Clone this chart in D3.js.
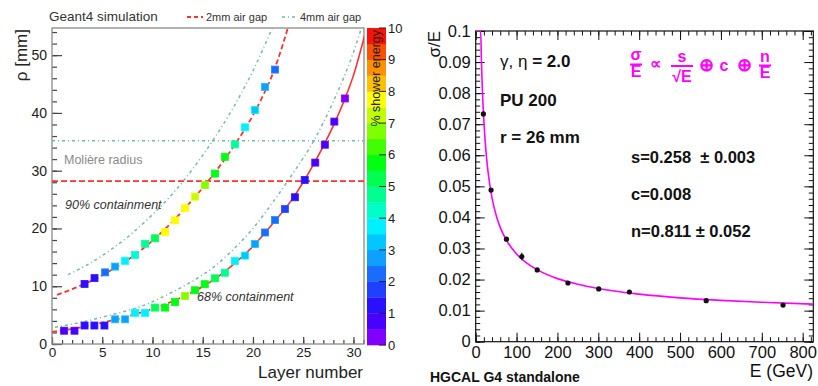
<!DOCTYPE html>
<html><head><meta charset="utf-8">
<script src="https://cdn.jsdelivr.net/npm/d3@7"></script>
<style>
body{margin:0;background:#fff}
text{font-family:"Liberation Sans",Arial,Helvetica,sans-serif}
</style>
</head><body>
<svg id="c" width="818" height="386"></svg>
<script>
// ---------------- data: left panel (containment radius per layer) ----------------
const layers68 = [1.21,2.24,3.24,4.22,5.22,6.28,7.28,8.27,9.27,10.26,11.26,12.25,13.24,14.23,15.2,16.22,17.2,18.2,19.2,20.2,21.2,22.2,23.18,24.17,25.15,26.2,27.15,28.1,29.15];
const rho68    = [2.3,2.3,3.2,3.2,3.2,4.27,4.27,5.4,5.4,6.3,6.3,7.27,8.3,9.3,10.35,11.37,12.34,14.36,15.3,17.3,19.3,21.45,23.36,25.4,28.4,31.4,34.5,38.5,42.5];
const energy68 = [0.7,0.7,1.2,1.2,1.2,2.6,2.8,3.6,3.6,5.3,5.8,5.8,6.6,5.9,5.6,5.2,4.6,3.8,3.2,2.7,2.4,2.1,1.8,1.3,1.0,0.8,0.7,0.6,0.4];

const layers90 = [3.24,4.23,5.29,6.28,7.28,8.27,9.27,10.26,11.26,12.25,13.24,14.23,15.23,16.22,17.2,18.2,19.2,20.2,21.2,22.2];
const rho90    = [10.4,11.4,12.4,13.4,14.4,15.4,17.35,18.3,19.4,21.4,23.5,25.5,27.5,29.5,32.4,34.55,37.5,40.5,44.5,47.5];
const energy90 = [1.3,1.3,2.0,2.7,3.6,4.2,4.7,5.4,7.6,7.6,7.6,7.1,6.6,5.9,5.6,4.6,3.7,3.1,2.7,2.1];

// fitted curves
const fit90mm2L = [0.5,2,4,6,8,10,12,14,16,18,20,21,22,23,24];
const fit90mm2R = [8.5,9.5,11.0,12.9,15.1,17.9,21.2,25.0,29.2,34.0,39.6,43.0,46.9,52.0,58.0];
const fit90mm4L = [1.6,4,6,8,10,12,14,16,18,20,22];
const fit90mm4R = [12.0,14.2,16.5,19.2,22.4,26.0,30.3,35.2,40.8,47.3,55.0];
const fit68mm2L = [0,2,4,6,8,10,12,14,16,18,20,22,24,26,28,29,30,31.2];
const fit68mm2R = [2.1,2.6,3.3,4.1,5.0,6.1,7.4,9.0,11.0,13.7,16.9,20.9,25.3,31.0,37.8,41.8,46.5,54.0];
const fit68mm4L = [0.3,3,6,9,12,14,16,18,20,22,24,26,28,30,31.2];
const fit68mm4R = [2.9,3.8,5.1,6.6,9.0,10.9,13.2,16.3,20.0,24.6,29.6,35.0,42.0,50.5,57.0];

const moliere2mm = 28.2;
const moliere4mm = 35.2;

const xTicksL = [0,5,10,15,20,25,30];
const yTicksL = [0,10,20,30,40,50];
const cbTicks = [0,1,2,3,4,5,6,7,8,9,10];
const palette = ["#7f00ff","#4800ff","#2a10ff","#2040ff","#1a6cff","#0fa0ff","#00c8ff","#00f0ff","#00ffc8","#00ff90",
                 "#00ff50","#00ff10","#40ff00","#80ff00","#c0ff00","#ffff00","#ffc000","#ff9000","#ff5000","#ff1000"];

// ---------------- data: right panel (energy resolution) ----------------
const energyGeV = [18.8,37.6,75.2,112.8,150.5,225.7,301,376,564,752];
const sigmaE    = [0.0733,0.0488,0.0330,0.0274,0.0231,0.0189,0.0170,0.0160,0.0132,0.0118];
const sigmaErr  = [0.0008,0.0006,0.0005,0.0012,0.0004,0.0004,0.0004,0.0003,0.0003,0.0003];
const curveE    = [1,12.1,14,16,20,25,30,40,50,60,75,100,125,150,200,250,300,400,500,600,700,826];
const curveS    = [0.1,0.1,0.0904,0.0824,0.0710,0.0615,0.0549,0.0462,0.0407,0.0368,0.0327,0.0282,0.0253,0.0232,0.0203,0.0185,0.0171,0.0153,0.0141,0.0133,0.0127,0.0121];
const xTicksR = [0,100,200,300,400,500,600,700,800];
const yTicksR = [0,0.01,0.02,0.03,0.04,0.05,0.06,0.07,0.08,0.09,0.1];
const yTickLabelsR = ["0","0.01","0.02","0.03","0.04","0.05","0.06","0.07","0.08","0.09","0.1"];

// ---------------- drawing ----------------
const svg = d3.select("#c");
const RED = "#ff3030", GREEN = "#77b8a6";

// ===== Left panel =====
const xL = d3.scaleLinear().domain([0,31.05]).range([52,364]);
const yL = d3.scaleLinear().domain([0,54.7]).range([344,28]);
const cScale = d3.scaleQuantize().domain([0,10]).range(palette);

const gL = svg.append("g");
gL.append("defs").append("clipPath").attr("id","clipL")
  .append("rect").attr("x",52).attr("y",28).attr("width",312).attr("height",316);

// axes
const axB = gL.append("g").attr("transform","translate(0,344)")
  .call(d3.axisBottom(xL).tickValues(xTicksL).tickSize(-7).tickPadding(3).tickFormat(d3.format("d")));
gL.append("g").attr("transform","translate(0,344)")
  .call(d3.axisBottom(xL).tickValues(d3.range(0,32,1)).tickSize(-4).tickFormat(""));
const axLft = gL.append("g").attr("transform","translate(52,0)")
  .call(d3.axisLeft(yL).tickValues(yTicksL).tickSize(-10).tickPadding(5).tickFormat(d3.format("d")));
gL.append("g").attr("transform","translate(52,0)")
  .call(d3.axisLeft(yL).tickValues(d3.range(0,55,2)).tickSize(-5).tickFormat(""));
gL.selectAll(".domain").remove();
gL.selectAll(".tick line").attr("stroke","#444").attr("stroke-width",1.2);
axB.selectAll("text").attr("font-size",13.5).attr("fill","#222");
axLft.selectAll("text").attr("font-size",14).attr("fill","#222");

// frame
gL.append("rect").attr("x",52).attr("y",28).attr("width",312).attr("height",316)
  .attr("fill","none").attr("stroke","#8a8a8a").attr("stroke-width",1.3);

const pl = gL.append("g").attr("clip-path","url(#clipL)");
// horizontal Moliere lines
pl.append("line").attr("x1",52).attr("x2",364).attr("y1",yL(moliere4mm)).attr("y2",yL(moliere4mm))
  .attr("stroke",GREEN).attr("stroke-width",1.5).attr("stroke-dasharray","3,3,1,3");
pl.append("line").attr("x1",52).attr("x2",364).attr("y1",yL(moliere2mm)).attr("y2",yL(moliere2mm))
  .attr("stroke",RED).attr("stroke-width",1.6).attr("stroke-dasharray","6,3");

const line = d3.line().x(d=>xL(d[0])).y(d=>yL(d[1])).curve(d3.curveMonotoneX);
const zip = (a,b)=>a.map((v,i)=>[v,b[i]]);
pl.append("path").attr("d",line(zip(fit90mm4L,fit90mm4R))).attr("fill","none")
  .attr("stroke",GREEN).attr("stroke-width",1.5).attr("stroke-dasharray","3,3,1,3");
pl.append("path").attr("d",line(zip(fit68mm4L,fit68mm4R))).attr("fill","none")
  .attr("stroke",GREEN).attr("stroke-width",1.5).attr("stroke-dasharray","3,3,1,3");
pl.append("path").attr("d",line(zip(fit90mm2L,fit90mm2R))).attr("fill","none")
  .attr("stroke",RED).attr("stroke-width",1.8).attr("stroke-dasharray","5,3");
const low = zip(fit68mm2L,fit68mm2R);
pl.append("path").attr("d",line(low.filter(d=>d[0]<=16))).attr("fill","none")
  .attr("stroke",RED).attr("stroke-width",1.8).attr("stroke-dasharray","5,3");
pl.append("path").attr("d",line(low.filter(d=>d[0]>=14))).attr("fill","none")
  .attr("stroke",RED).attr("stroke-width",1.6);

// markers
const sq = 7;
function squares(L,R,E){
  pl.selectAll(null).data(L.map((l,i)=>({l,r:R[i],e:E[i]}))).enter().append("rect")
    .attr("x",d=>xL(d.l)-sq/2).attr("y",d=>yL(d.r)-sq/2).attr("width",sq).attr("height",sq)
    .attr("fill",d=>cScale(d.e)).attr("stroke",d=>d3.color(cScale(d.e)).brighter(0.6)).attr("stroke-width",0.8);
}
squares(layers68,rho68,energy68);
squares(layers90,rho90,energy90);

// texts
gL.append("text").attr("x",64).attr("y",164).attr("font-size",12.5).attr("fill","#8a8a8a").text("Molière radius");
gL.append("text").attr("x",65).attr("y",209).attr("font-size",12.5).attr("font-style","italic").attr("fill","#333").text("90% containment");
gL.append("text").attr("x",197).attr("y",301).attr("font-size",12.5).attr("font-style","italic").attr("fill","#333").text("68% containment");
gL.append("text").attr("x",363).attr("y",378).attr("text-anchor","end").attr("font-size",17).attr("fill","#222").text("Layer number");
gL.append("text").attr("transform","translate(27,29) rotate(-90)").attr("text-anchor","end").attr("font-size",17).attr("fill","#222").text("ρ [mm]");
// header & legend
gL.append("text").attr("x",49).attr("y",21).attr("font-size",13.5).attr("fill","#333").text("Geant4 simulation");
gL.append("line").attr("x1",187).attr("x2",203).attr("y1",17).attr("y2",17).attr("stroke",RED).attr("stroke-width",1.8).attr("stroke-dasharray","4,3");
gL.append("text").attr("x",206).attr("y",21).attr("font-size",11).attr("fill","#333").text("2mm air gap");
gL.append("line").attr("x1",282).attr("x2",297).attr("y1",17).attr("y2",17).attr("stroke",GREEN).attr("stroke-width",1.5).attr("stroke-dasharray","3,3,1,3");
gL.append("text").attr("x",300).attr("y",21).attr("font-size",11).attr("fill","#333").text("4mm air gap");

// colour bar
const yC = d3.scaleLinear().domain([0,10]).range([345,28]);
const cb = svg.append("g");
cb.selectAll(null).data(palette).enter().append("rect")
  .attr("x",367).attr("width",19)
  .attr("y",(d,i)=>yC((i+1)*0.5)).attr("height",(d,i)=>yC(i*0.5)-yC((i+1)*0.5)+0.3)
  .attr("fill",d=>d);
cb.selectAll(null).data(cbTicks).enter().append("line")
  .attr("x1",379).attr("x2",386).attr("y1",d=>yC(d)).attr("y2",d=>yC(d)).attr("stroke","#222").attr("stroke-width",1);
cb.selectAll(null).data(cbTicks).enter().append("text")
  .attr("x",388).attr("y",d=>yC(d)).attr("dy","0.36em").attr("font-size",13).attr("fill","#222").text(d=>d);
cb.append("text").attr("transform","translate(380,30) rotate(-90)").attr("text-anchor","end")
  .attr("font-size",12.5).attr("fill","#222").text("% shower energy");

// ===== Right panel =====
const xR = d3.scaleLinear().domain([0,826]).range([475.7,813.3]);
const yR = d3.scaleLinear().domain([0,0.1]).range([341.7,31]);
const gR = svg.append("g");
gR.append("defs").append("clipPath").attr("id","clipR")
  .append("rect").attr("x",475.7).attr("y",31).attr("width",337.6).attr("height",310.7);

function ticks(axis, tr, vals, size, fmt){
  return gR.append("g").attr("transform",tr).call(axis.tickValues(vals).tickSize(size).tickPadding(5).tickFormat(fmt));
}
const minorX = d3.range(0,827,20), minorY = d3.range(0,51).map(i=>i/500);
const bx = ticks(d3.axisBottom(xR),"translate(0,341.7)",xTicksR,-9,d3.format("d"));
ticks(d3.axisBottom(xR),"translate(0,341.7)",minorX,-4.5,"");
ticks(d3.axisTop(xR),"translate(0,31)",xTicksR,-9,"");
ticks(d3.axisTop(xR),"translate(0,31)",minorX,-4.5,"");
const ly = ticks(d3.axisLeft(yR),"translate(475.7,0)",yTicksR,-9,(d,i)=>yTickLabelsR[i]);
ticks(d3.axisLeft(yR),"translate(475.7,0)",minorY,-4.5,"");
ticks(d3.axisRight(yR),"translate(813.3,0)",yTicksR,-9,"");
ticks(d3.axisRight(yR),"translate(813.3,0)",minorY,-4.5,"");
gR.selectAll(".domain").remove();
gR.selectAll(".tick line").attr("stroke","#111").attr("stroke-width",1);
bx.selectAll("text").attr("font-size",16.5).attr("fill","#111");
ly.selectAll("text").attr("font-size",16.5).attr("fill","#111");
gR.append("rect").attr("x",475.7).attr("y",31).attr("width",337.6).attr("height",310.7)
  .attr("fill","none").attr("stroke","#111").attr("stroke-width",1.2);

const pr = gR.append("g").attr("clip-path","url(#clipR)");
const lineR = d3.line().x(d=>xR(d[0])).y(d=>yR(d[1])).curve(d3.curveMonotoneX);
pr.append("path").attr("d",lineR(zip(curveE,curveS))).attr("fill","none").attr("stroke","#ff00ff").attr("stroke-width",1.6);
const pts = energyGeV.map((e,i)=>({e,s:sigmaE[i],err:sigmaErr[i]}));
pr.selectAll(null).data(pts).enter().append("line")
  .attr("x1",d=>xR(d.e)).attr("x2",d=>xR(d.e)).attr("y1",d=>yR(d.s-d.err)).attr("y2",d=>yR(d.s+d.err))
  .attr("stroke","#111").attr("stroke-width",1.2);
pr.selectAll(null).data(pts).enter().append("circle")
  .attr("cx",d=>xR(d.e)).attr("cy",d=>yR(d.s)).attr("r",2.6).attr("fill","#111");

// texts right
gR.append("text").attr("transform","translate(440,31) rotate(-90)").attr("text-anchor","end").attr("font-size",17).attr("fill","#111").text("σ/E");
gR.append("text").attr("x",813).attr("y",377).attr("text-anchor","end").attr("font-size",17.5).attr("fill","#111").text("E (GeV)");
gR.append("text").attr("x",430).attr("y",382).attr("font-size",14).attr("font-weight","bold").attr("fill","#111").text("HGCAL G4 standalone");
const t1 = gR.append("text").attr("x",500).attr("y",67).attr("font-size",17).attr("fill","#111");
t1.append("tspan").text("γ, η ");
t1.append("tspan").attr("font-weight","bold").text("= 2.0");
gR.append("text").attr("x",500).attr("y",106).attr("font-size",17).attr("font-weight","bold").attr("fill","#111").text("PU 200");
gR.append("text").attr("x",500).attr("y",143).attr("font-size",17).attr("font-weight","bold").attr("fill","#111").text("r = 26 mm");
gR.append("text").attr("x",631).attr("y",163).attr("font-size",16.5).attr("font-weight","bold").attr("fill","#111").style("white-space","pre").text("s=0.258  ± 0.003");
gR.append("text").attr("x",631).attr("y",200).attr("font-size",16.5).attr("font-weight","bold").attr("fill","#111").text("c=0.008");
gR.append("text").attr("x",631).attr("y",237).attr("font-size",16.5).attr("font-weight","bold").attr("fill","#111").text("n=0.811 ± 0.052");

// formula (magenta)
const M = "#ff00ff";
const fm = gR.append("g").attr("fill",M).attr("font-weight","bold");
function frac(cx,num,den,numY,denY,barY,w){
  fm.append("text").attr("x",cx).attr("y",numY).attr("text-anchor","middle").attr("font-size",16).text(num);
  fm.append("text").attr("x",cx).attr("y",denY).attr("text-anchor","middle").attr("font-size",16).text(den);
  fm.append("rect").attr("x",cx-w/2).attr("y",barY-1).attr("width",w).attr("height",2);
}
frac(636,"σ","E",60,77,64.5,12);
fm.append("text").attr("x",655).attr("y",69).attr("text-anchor","middle").attr("font-size",16).text("∝");
frac(682,"s","√E",61.5,82,66,22);
fm.append("text").attr("x",706).attr("y",71).attr("text-anchor","middle").attr("font-size",18).text("⊕");
fm.append("text").attr("x",724).attr("y",71).attr("text-anchor","middle").attr("font-size",16).text("c");
fm.append("text").attr("x",744).attr("y",71).attr("text-anchor","middle").attr("font-size",18).text("⊕");
frac(765,"n","E",62,78,65.5,12);
</script>
</body></html>
